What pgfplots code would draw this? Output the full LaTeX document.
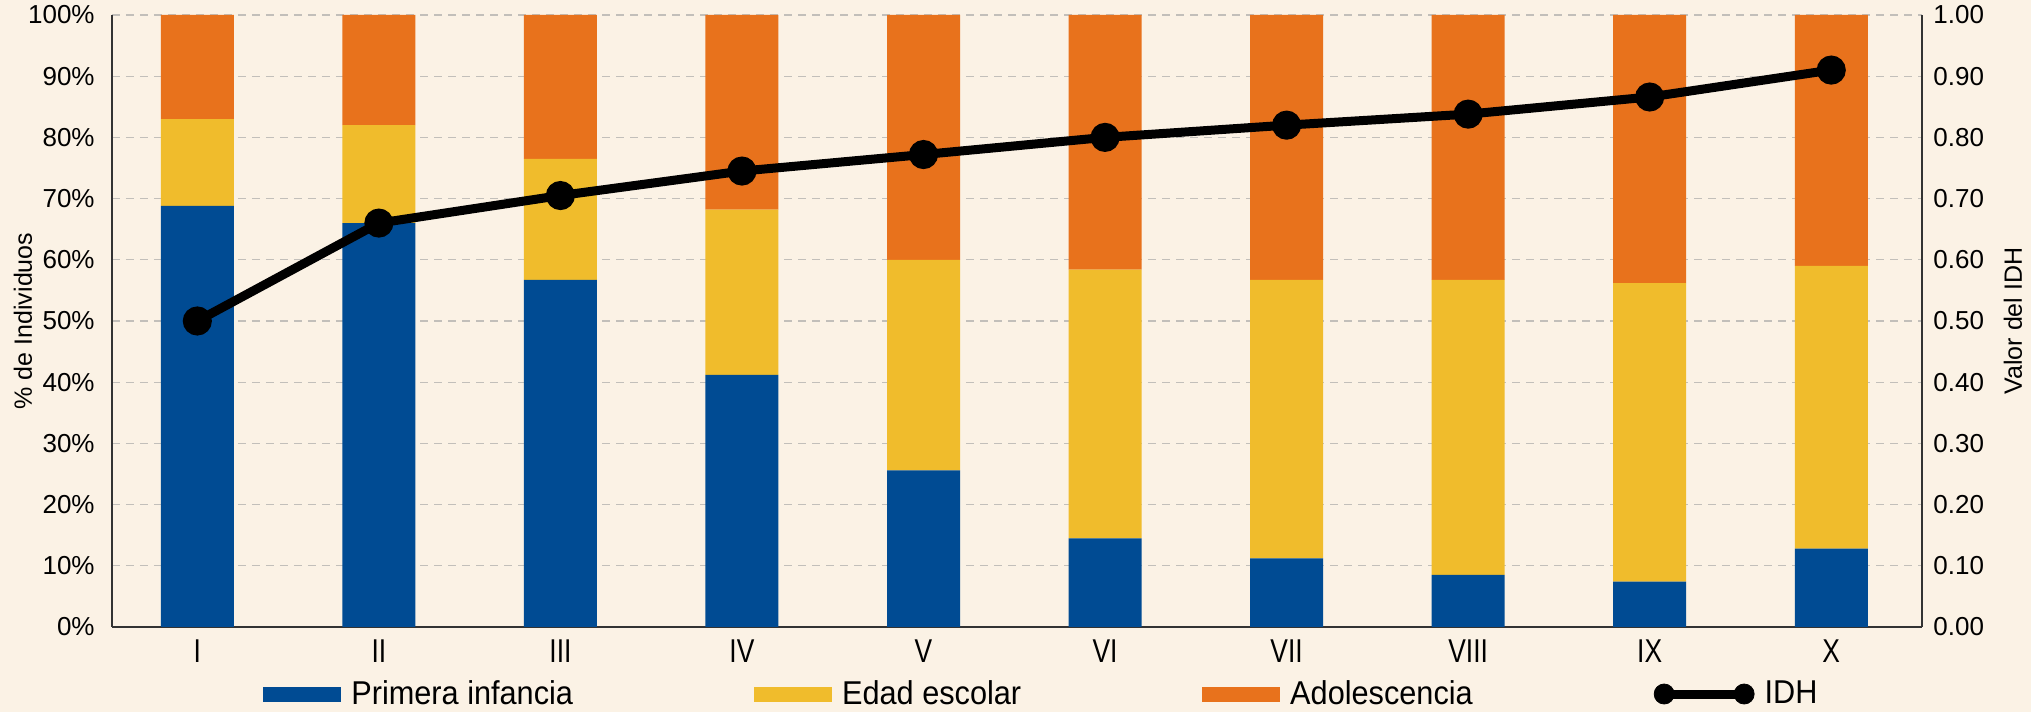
\documentclass[border=0pt]{standalone}
\usepackage{fontspec}
\setmainfont{Liberation Sans}
\newfontfamily\condfont[FakeStretch=0.93]{Liberation Sans}
\newfontfamily\tickfont[FakeStretch=0.8]{Liberation Sans}
\usepackage{pgfplots}
\pgfplotsset{compat=1.18}

\definecolor{bg}{HTML}{FBF2E5}
\definecolor{cblue}{HTML}{004B93}
\definecolor{cyellow}{HTML}{F0BC2C}
\definecolor{corange}{HTML}{E8721C}
\definecolor{gridc}{HTML}{C2BFBA}
\definecolor{axc}{HTML}{333333}

\pgfplotsset{
  common/.style={
    scale only axis,
    width=905pt, height=306pt,
    xmin=-0.47, xmax=9.5,
    major tick length=0pt,
    axis line style={axc, line width=0.75pt},
    tick label style={font=\fontsize{13pt}{15pt}\selectfont},
    label style={font=\fontsize{12.5pt}{14pt}\selectfont},
    /pgf/number format/assume math mode=true,
  },
}

\begin{document}
\begin{tikzpicture}
\fill[bg] (-56pt,-42.5pt) rectangle (959.5pt,313.5pt);
\begin{axis}[
    common,
    ybar stacked,
    bar width=36.5pt,
    ymin=0, ymax=100,
    axis x line*=bottom,
    axis y line*=left,
    xtick={0,1,2,3,4,5,6,7,8,9},
    xticklabels={I,II,III,IV,V,VI,VII,VIII,IX,X},
    xticklabel style={font=\tickfont\fontsize{16.5pt}{18pt}\selectfont, inner sep=0pt, yshift=-6pt},
    ytick={0,10,20,30,40,50,60,70,80,90,100},
    yticklabel={\pgfmathprintnumber{\tick}\%},
    yticklabel style={anchor=east, inner sep=0pt, xshift=-8.5pt},
    ymajorgrids,
    grid style={gridc, line width=0.6pt, dash pattern=on 4pt off 3pt},
    ylabel={\% de Individuos},
    ylabel style={at={(axis description cs:-0.0492,0.5)}, anchor=center},
    legend columns=4,
    legend cell align=left,
    legend style={
        at={(axis description cs:0.0834,-0.1095)}, anchor=west,
        draw=none, fill=none, inner sep=0pt,
        nodes={inner sep=0pt},
        font=\condfont\fontsize{16.5pt}{18pt}\selectfont,
        /tikz/every odd column/.append style={column sep=5pt},
        /tikz/every even column/.append style={column sep=90.5pt},
    },
]
\addplot[fill=cblue, draw=none,
    legend image code/.code={\fill[cblue] (0pt,-3.75pt) rectangle (39pt,3.75pt);}]
    coordinates {(0,68.8) (1,66.0) (2,56.7) (3,41.2) (4,25.6) (5,14.5) (6,11.2) (7,8.5) (8,7.4) (9,12.8)};
\addlegendentry{Primera infancia}
\addplot[fill=cyellow, draw=none,
    legend image code/.code={\fill[cyellow] (0pt,-3.75pt) rectangle (39pt,3.75pt);}]
    coordinates {(0,14.2) (1,16.0) (2,19.8) (3,27.0) (4,34.4) (5,43.9) (6,45.5) (7,48.2) (8,48.8) (9,46.2)};
\addlegendentry{Edad escolar}
\addplot[fill=corange, draw=none,
    legend image code/.code={\fill[corange] (0pt,-3.75pt) rectangle (39pt,3.75pt);}]
    coordinates {(0,17.0) (1,18.0) (2,23.5) (3,31.8) (4,40.0) (5,41.6) (6,43.3) (7,43.3) (8,43.8) (9,41.0)};
\addlegendentry{Adolescencia}
\addlegendimage{legend image code/.code={
    \draw[black, line width=4.5pt] (5pt,0pt) -- (45pt,0pt);
    \fill[black] (5pt,0pt) circle (5pt);
    \fill[black] (45pt,0pt) circle (5pt);}}
\addlegendentry{IDH}
\end{axis}

\begin{axis}[
    common,
    ymin=0, ymax=1,
    hide x axis,
    axis y line*=right,
    ytick={0,0.1,0.2,0.3,0.4,0.5,0.6,0.7,0.8,0.9,1.0},
    yticklabel style={anchor=west, inner sep=0pt, xshift=5.5pt,
        /pgf/number format/.cd, fixed, fixed zerofill, precision=2},
    ylabel={Valor del IDH},
    ylabel style={at={(axis description cs:1.0503,0.5)}, anchor=center, rotate=0},
]
\addplot[black, line width=4.5pt, mark=*, mark size=5pt]
    coordinates {(0,0.50) (1,0.66) (2,0.705) (3,0.745) (4,0.772) (5,0.80) (6,0.82) (7,0.838) (8,0.866) (9,0.91)};
\end{axis}
\pgfresetboundingbox
\path (-56pt,-42.5pt) rectangle (959.5pt,313.5pt);
\end{tikzpicture}
\end{document}
